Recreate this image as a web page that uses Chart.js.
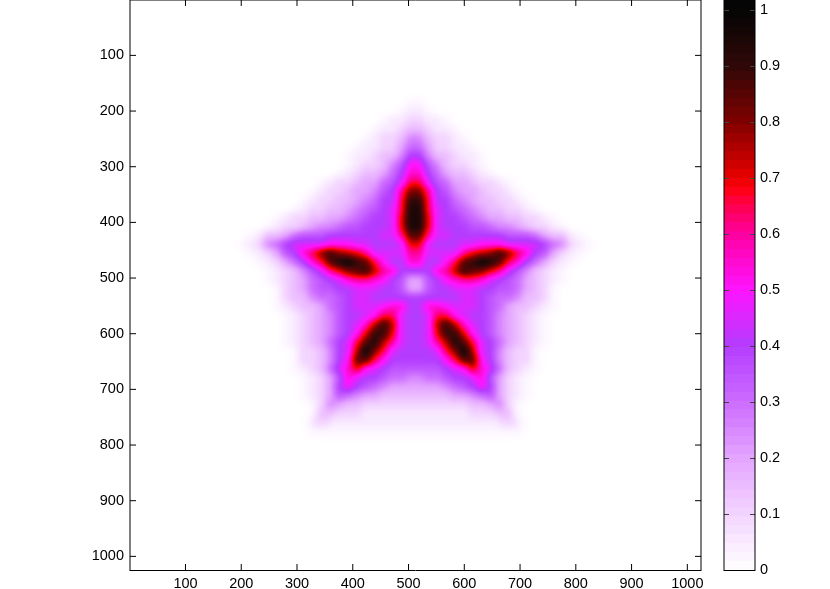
<!DOCTYPE html>
<html>
<head>
<meta charset="utf-8" />
<title>star</title>
<style>
    html, body { margin: 0; padding: 0; background: #fff; overflow: hidden; }
    #wrap { position: relative; width: 830px; height: 589px; }
    #heat { position: absolute; left: 0; top: 0; }
    #bar { position: absolute; left: 700px; top: 0; }
</style>
<script src="https://cdn.jsdelivr.net/npm/chart.js@4"></script>
</head>
<body>
<div id="wrap">
    <canvas id="heat" width="830" height="589"></canvas>
    <canvas id="bar" width="130" height="589"></canvas>
</div>
<script type="text/javascript">
// tick labels
var xTicks = [100, 200, 300, 400, 500, 600, 700, 800, 900, 1000];
var yTicks = [100, 200, 300, 400, 500, 600, 700, 800, 900, 1000];
var barTicks = [0, 0.1, 0.2, 0.3, 0.4, 0.5, 0.6, 0.7, 0.8, 0.9, 1];

// colormap
var mapLevels = [0, 0.1, 0.2, 0.3, 0.4, 0.5, 0.6, 0.65, 0.68, 0.7, 0.8, 0.9, 1];
var mapReds   = [255, 243, 228, 204, 180, 255, 255, 255, 255, 232, 128, 48, 5];
var mapGreens = [255, 212, 164, 108, 60, 20, 0, 0, 0, 0, 0, 8, 5];
var mapBlues  = [255, 255, 255, 255, 255, 255, 160, 80, 16, 0, 0, 8, 5];

// image cells, one char per cell, 0..9 a..k = 0..1 in steps of 0.05, x = 0.02
// rows are centred on the image, blanks left and right are 0
var cellLevels = "0123456789abcdefghijk";
var faintCell = 0.02;
var cellSize = 16;
var firstCellY = 184.5;
var imageMiddle = 512.5;
var imageRows = [
    "xx",
    "x11x",
    "x112211x",
    "x11233211x",
    "x1223553221x",
    "x112246642211x",
    "x11233588533211x",
    "x122357aa753221x",
    "x1233468bb8643321x",
    "x122344679dd976443221x",
    "x122344578cggc875443221x",
    "x1223345688diid8865433221x",
    "x12233456789djjd98765433221x",
    "x1223344567889ejje9887654433221x",
    "x12234556778889ejje98887765543221x",
    "x1334677788888899chhc9988888877764331x",
    "x125689999aaa998889ee988899aaa999986521x",
    "x12478bdgigfec9999cc9999cefgigdb87421x",
    "x12468bdhjkihda88bb88adhikjhdb86421x",
    "x123579ceghifcb8888bcfihgec975321x",
    "x12346789bccba874478abccb98764321x",
    "x234677889998874478899988776432x",
    "x233566789988888888889987665332x",
    "x12334678999abb88bba99987643321x",
    "x123457889add9889dda988754321x",
    "x12345789bfif9889fifb98754321x",
    "x1234578aeiie9889eiiea8754321x",
    "x1234689dhjfc9889cfjhd9864321x",
    "x223589fkgd988889dgkf985322x",
    "x22358ahhda888888adhha85322x",
    "x12369bea9877777789aeb96321x",
    "x1247b98876655667889b7421x",
    "x1248a87654444445678a8421x",
    "x124765443333333344567421x",
    "x2543322222222222233452x",
    "x3322211111111111122233x",
    "x22111111111111111111122x",
    "xxxxxxxxxxxxxxxxxxxxxxxx"
];

function colorAt(v) {
    var i = 0;
    while (i < mapLevels.length - 2 && v > mapLevels[i + 1]) i++;
    var t = (v - mapLevels[i]) / (mapLevels[i + 1] - mapLevels[i]);
    if (t > 1) t = 1;
    return [
        Math.round(mapReds[i] + (mapReds[i + 1] - mapReds[i]) * t),
        Math.round(mapGreens[i] + (mapGreens[i + 1] - mapGreens[i]) * t),
        Math.round(mapBlues[i] + (mapBlues[i + 1] - mapBlues[i]) * t)
    ];
}

var cells = [];
imageRows.forEach(function(row, j) {
    row.split('').forEach(function(c, i) {
        cells.push({
            x: imageMiddle + (i - row.length / 2 + 0.5) * cellSize,
            y: firstCellY + j * cellSize,
            v: c == 'x' ? faintCell : cellLevels.indexOf(c) * 0.05
        });
    });
});

var tickFont = { family: '"Liberation Sans", Arial, sans-serif', size: 14.5 };

// cells are drawn as grey = value, softened because the grid is coarser than
// the picture, and only then turned into colours so the bands stay in order
var colorCells = {
    id: 'colorCells',
    beforeDatasetsDraw: function(chart) {
        var a = chart.chartArea;
        chart.ctx.save();
        chart.ctx.fillStyle = '#000';
        chart.ctx.fillRect(a.left, a.top, a.right - a.left, a.bottom - a.top);
        chart.ctx.restore();
    },
    afterDatasetsDraw: function(chart) {
        var a = chart.chartArea;
        var ctx = chart.ctx;
        var w = a.right - a.left, h = a.bottom - a.top;
        ctx.save();
        ctx.beginPath();
        ctx.rect(a.left, a.top, w, h);
        ctx.clip();
        ctx.filter = 'blur(3.5px)';
        ctx.drawImage(chart.canvas, a.left, a.top, w, h, a.left, a.top, w, h);
        ctx.restore();
        var img = ctx.getImageData(a.left, a.top, w, h);
        var lut = [];
        for (var g = 0; g < 256; g++) lut.push(colorAt(g / 255));
        for (var p = 0; p < img.data.length; p += 4) {
            var rgb = lut[img.data[p]];
            img.data[p] = rgb[0];
            img.data[p + 1] = rgb[1];
            img.data[p + 2] = rgb[2];
            img.data[p + 3] = 255;
        }
        ctx.putImageData(img, a.left, a.top);
    }
};

// box with ticks pointing inwards on all four sides
var plotFrame = {
    id: 'plotFrame',
    afterDraw: function(chart) {
        var a = chart.chartArea;
        var ctx = chart.ctx;
        ctx.save();
        ctx.lineWidth = 1;
        ctx.strokeStyle = '#000';
        ctx.beginPath();
        xTicks.forEach(function(t) {
            var px = chart.scales.x.getPixelForValue(t);
            ctx.moveTo(px, a.top); ctx.lineTo(px, a.top + 6);
            ctx.moveTo(px, a.bottom); ctx.lineTo(px, a.bottom - 6);
        });
        yTicks.forEach(function(t) {
            var py = chart.scales.y.getPixelForValue(t);
            ctx.moveTo(a.left, py); ctx.lineTo(a.left + 6, py);
            ctx.moveTo(a.right, py); ctx.lineTo(a.right - 6, py);
        });
        ctx.moveTo(a.left, a.top); ctx.lineTo(a.left, a.bottom);
        ctx.moveTo(a.right, a.top); ctx.lineTo(a.right, a.bottom);
        ctx.moveTo(a.left, a.top); ctx.lineTo(a.right, a.top);
        ctx.stroke();
        ctx.beginPath();
        ctx.moveTo(a.left - 0.5, a.bottom + 0.5); ctx.lineTo(a.right + 0.5, a.bottom + 0.5);
        ctx.stroke();
        ctx.restore();
    }
};

var barFrame = {
    id: 'barFrame',
    afterDraw: function(chart) {
        var a = chart.chartArea;
        var ctx = chart.ctx;
        ctx.save();
        ctx.lineWidth = 1;
        ctx.strokeStyle = '#444';
        ctx.beginPath();
        barTicks.forEach(function(t) {
            var py = Math.round(chart.scales.y.getPixelForValue(t)) + 0.5;
            ctx.moveTo(a.left, py); ctx.lineTo(a.left + 5, py);
            ctx.moveTo(a.right, py); ctx.lineTo(a.right - 5, py);
        });
        ctx.stroke();
        ctx.strokeStyle = '#000';
        ctx.beginPath();
        ctx.moveTo(a.left, a.top); ctx.lineTo(a.left, a.bottom);
        ctx.moveTo(a.right, a.top); ctx.lineTo(a.right, a.bottom);
        ctx.stroke();
        ctx.beginPath();
        ctx.moveTo(a.left - 0.5, a.bottom + 0.5); ctx.lineTo(a.right + 0.5, a.bottom + 0.5);
        ctx.stroke();
        ctx.restore();
    }
};

new Chart(document.getElementById('heat'), {
    type: 'scatter',
    data: {
        datasets: [{
            data: cells,
            pointStyle: 'rect',
            borderWidth: 0,
            pointBackgroundColor: function(c) {
                var g = Math.round(c.raw.v * 255);
                return 'rgb(' + g + ',' + g + ',' + g + ')';
            },
            pointRadius: function(c) {
                var s = c.chart.scales.x;
                var half = Math.abs(s.getPixelForValue(cellSize) - s.getPixelForValue(0)) / 2;
                return (half + 0.6) * Math.SQRT2;
            }
        }]
    },
    options: {
        responsive: false,
        animation: false,
        events: [],
        layout: { padding: { right: 129 } },
        plugins: { legend: { display: false }, tooltip: { enabled: false } },
        scales: {
            x: {
                type: 'linear', min: 0.5, max: 1024.5,
                grid: { display: false, drawTicks: false }, border: { display: false },
                afterBuildTicks: function(s) { s.ticks = xTicks.map(function(v) { return { value: v }; }); },
                afterFit: function(s) { s.height = 19; s.paddingLeft = 0; s.paddingRight = 0; },
                ticks: {
                    color: '#000', font: tickFont, maxRotation: 0, autoSkip: false, padding: 5,
                    callback: function(v) { return String(v); }
                }
            },
            y: {
                type: 'linear', min: 0.5, max: 1024.5, reverse: true,
                grid: { display: false, drawTicks: false }, border: { display: false },
                afterBuildTicks: function(s) { s.ticks = yTicks.map(function(v) { return { value: v }; }); },
                afterFit: function(s) { s.width = 130; s.paddingTop = 0; s.paddingBottom = 0; },
                ticks: {
                    color: '#000', font: tickFont, autoSkip: false, padding: 6,
                    callback: function(v) { return String(v); }
                }
            }
        }
    },
    plugins: [colorCells, plotFrame]
});

// colorbar, 64 flat steps like the original, each bar runs from 0 up to its step
var barTop = 1.0179;
var barDatasets = [];
for (var i = 0; i < 64; i++) {
    var rgb = colorAt((i + 0.5) * barTop / 64);
    barDatasets.push({
        data: [[0, (i + 1) * barTop / 64]],
        backgroundColor: 'rgb(' + rgb.join(',') + ')',
        borderWidth: 0,
        categoryPercentage: 1,
        barPercentage: 1
    });
}

new Chart(document.getElementById('bar'), {
    type: 'bar',
    data: { labels: ['c'], datasets: barDatasets },
    options: {
        responsive: false,
        animation: false,
        events: [],
        layout: { padding: { left: 24, bottom: 19 } },
        plugins: { legend: { display: false }, tooltip: { enabled: false } },
        scales: {
            x: { stacked: true, display: false },
            y: {
                position: 'right', min: 0, max: barTop,
                grid: { display: false, drawTicks: false }, border: { display: false },
                afterBuildTicks: function(s) { s.ticks = barTicks.map(function(v) { return { value: v }; }); },
                afterFit: function(s) { s.width = 75; s.paddingTop = 0; s.paddingBottom = 0; },
                ticks: {
                    color: '#000', font: tickFont, autoSkip: false, padding: 5,
                    callback: function(v) { return String(v); }
                }
            }
        }
    },
    plugins: [barFrame]
});
</script>
</body>
</html>
